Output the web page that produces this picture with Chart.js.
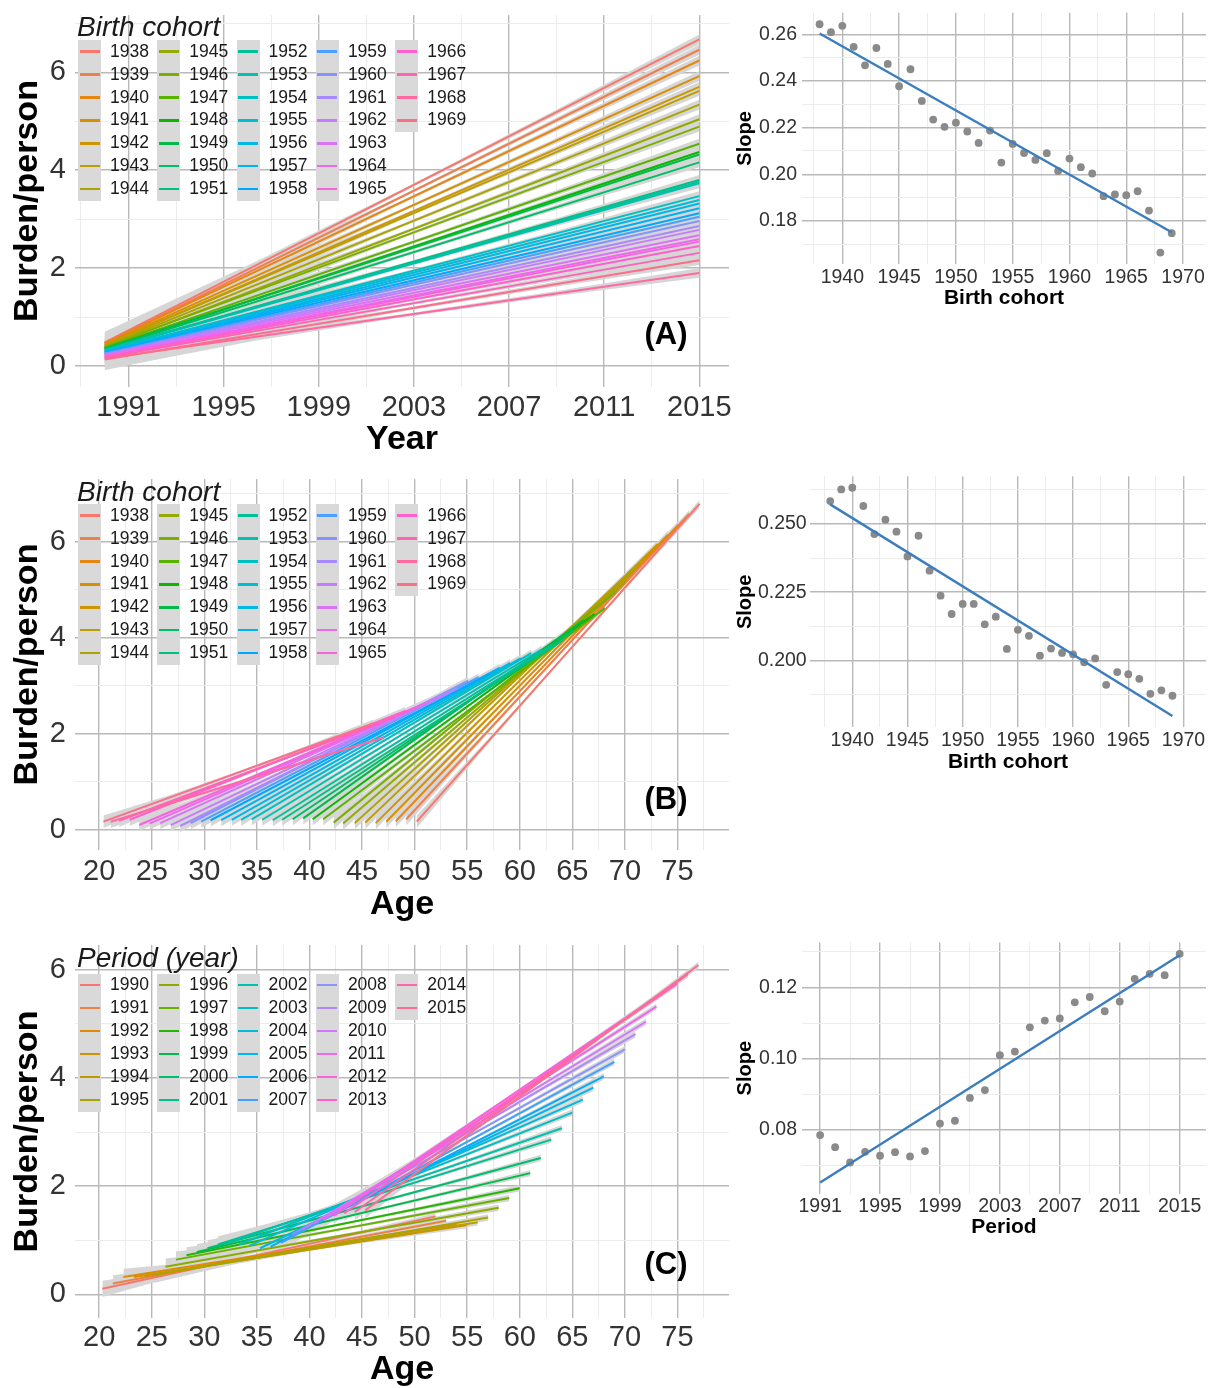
<!DOCTYPE html>
<html><head><meta charset="utf-8">
<script src="https://cdn.jsdelivr.net/npm/chart.js@4.4.1/dist/chart.umd.min.js"></script>
<style>
html,body{margin:0;padding:0;background:#fff;width:1210px;height:1388px;overflow:hidden;position:relative;font-family:"Liberation Sans",Arial,Helvetica,sans-serif;}
canvas{position:absolute;}
.t{position:absolute;white-space:nowrap;line-height:1;transform:translateY(-50%);}
.key{position:absolute;background:#d9d9d9;}
.key i{position:absolute;left:1.5px;width:20px;height:2.5px;}
.plab{position:absolute;font-weight:bold;font-size:31px;line-height:1;transform:translate(-50%,-50%);color:#000;}
</style></head><body>
<script>
// ---------------- DATA ----------------
const cohorts = [1938,1939,1940,1941,1942,1943,1944,1945,1946,1947,1948,1949,1950,1951,1952,1953,1954,1955,1956,1957,1958,1959,1960,1961,1962,1963,1964,1965,1966,1967,1968,1969];
const periods = [1990,1991,1992,1993,1994,1995,1996,1997,1998,1999,2000,2001,2002,2003,2004,2005,2006,2007,2008,2009,2010,2011,2012,2013,2014,2015];

// Panel A: burden per cohort, fitted line from 1990 to 2015
const aYearSpan = [1990, 2015];
const aStartVal = [0.48,0.46,0.46,0.44,0.42,0.42,0.40,0.38,0.39,0.37,0.35,0.36,0.34,0.33,0.33,0.32,0.30,0.30,0.28,0.28,0.27,0.25,0.25,0.23,0.22,0.22,0.20,0.19,0.18,0.17,0.15,0.13];
const aEndVal   = [6.67,6.46,6.24,5.92,5.70,5.62,5.34,5.04,4.89,4.54,4.37,4.32,4.16,3.80,3.76,3.73,3.47,3.39,3.32,3.22,3.12,3.05,2.96,2.86,2.78,2.67,2.59,2.54,2.45,2.31,1.90,2.16];

// Panel B: burden per cohort against age
const bStartAge = [50.2,49.2,48.2,47.3,46.3,45.3,44.3,43.2,42.3,41.3,40.3,39.4,38.4,37.4,36.5,35.5,34.5,33.5,32.6,31.6,30.6,29.7,28.7,27.7,26.8,25.8,24.8,23.8,22.9,21.9,21.1,20.4];
const bEndAge   = [77.1,76.1,75.1,74.1,73.1,72.1,71.1,70.1,69.1,68.1,67.1,66.1,65.1,64.1,63.1,62.1,61.1,60.1,59.1,58.1,57.1,56.1,55.1,54.1,53.1,52.1,51.1,50.1,49.1,48.1,47.1,46.1];
const bStartVal = [0.17,0.22,0.18,0.17,0.14,0.15,0.14,0.13,0.15,0.22,0.22,0.24,0.22,0.21,0.20,0.21,0.22,0.21,0.21,0.20,0.20,0.17,0.14,0.08,0.10,0.14,0.13,0.10,0.21,0.19,0.17,0.17];
const bEndVal   = [6.79,6.58,6.36,6.15,5.95,5.72,5.45,5.17,4.95,4.62,4.50,4.37,4.15,3.95,3.85,3.76,3.68,3.58,3.48,3.38,3.25,3.18,3.11,2.95,2.85,2.75,2.65,2.55,2.48,2.35,1.93,2.22];

// Panel C: burden per period against age
const cStartAge = [20.3,21.3,22.3,23.3,24.3,25.3,26.3,27.3,28.3,29.3,30.3,31.3,32.3,33.3,34.3,35.3,36.3,37.3,38.3,39.3,40.3,41.3,42.3,43.3,44.3,45.3];
const cEndAge   = [52,53,54,55,56,57,58,59,60,61,62,63,64,65,66,67,68,69,70,71,72,73,74,75,76,77];
const cStartVal = [0.10,0.20,0.32,0.32,0.33,0.36,0.51,0.64,0.72,0.78,0.85,0.92,0.95,0.92,0.90,0.85,0.88,0.95,1.10,1.20,1.30,1.38,1.45,1.50,1.52,1.55];
const cEndVal   = [1.44,1.36,1.30,1.28,1.33,1.42,1.60,1.78,1.96,2.24,2.52,2.86,3.07,3.36,3.60,3.82,4.03,4.30,4.53,4.81,5.04,5.32,5.63,5.75,5.92,6.09];

// Right panels: slopes
const slopeA = [0.2643,0.2609,0.2636,0.2546,0.2467,0.2541,0.2473,0.2377,0.2450,0.2314,0.2234,0.2203,0.2221,0.2183,0.2134,0.2187,0.2050,0.2130,0.2091,0.2061,0.2090,0.2014,0.2067,0.2030,0.2003,0.1906,0.1913,0.1910,0.1927,0.1844,0.1664,0.1747];
const slopeAFitX = [1938, 1969];
const slopeAFitY = [0.2603, 0.1751];
const slopeB = [0.2584,0.2627,0.2633,0.2566,0.2463,0.2516,0.2472,0.2381,0.2457,0.2329,0.2237,0.2170,0.2207,0.2207,0.2132,0.2160,0.2042,0.2112,0.2090,0.2017,0.2043,0.2027,0.2022,0.1993,0.2007,0.1910,0.1957,0.1949,0.1932,0.1877,0.1890,0.1870];
const slopeBFitX = [1938, 1969];
const slopeBFitY = [0.2572, 0.1796];
const slopePeriods = [1991,1992,1993,1994,1995,1996,1997,1998,1999,2000,2001,2002,2003,2004,2005,2006,2007,2008,2009,2010,2011,2012,2013,2014,2015];
const slopeC = [0.0786,0.0752,0.0709,0.0739,0.0728,0.0738,0.0726,0.0741,0.0818,0.0826,0.0890,0.0912,0.1010,0.1020,0.1088,0.1107,0.1113,0.1158,0.1173,0.1133,0.1160,0.1224,0.1238,0.1234,0.1294];
const slopeCFitX = [1991, 2015];
const slopeCFitY = [0.0653, 0.1290];

// Tick values
const yearMajor = [1991,1995,1999,2003,2007,2011,2015];
const yearMinor = [1989,1993,1997,2001,2005,2009,2013];
const ageMajor = [20,25,30,35,40,45,50,55,60,65,70,75];
const ageMinor = [22.5,27.5,32.5,37.5,42.5,47.5,52.5,57.5,62.5,67.5,72.5,77.5];
const burdenMajor = [0,2,4,6];
const burdenMinor = [1,3,5,7];
const cohortMajor = [1940,1945,1950,1955,1960,1965,1970];
const cohortMinor = [1937.5,1942.5,1947.5,1952.5,1957.5,1962.5,1967.5];
const slopeAMajor = [0.18,0.20,0.22,0.24,0.26];
const slopeAMinor = [0.17,0.19,0.21,0.23,0.25];
const slopeBMajor = [0.200,0.225,0.250];
const slopeBMinor = [0.1875,0.2125,0.2375,0.2625];
const periodMajor = [1991,1995,1999,2003,2007,2011,2015];
const periodMinor = [1993,1997,2001,2005,2009,2013];
const slopeCMajor = [0.08,0.10,0.12];
const slopeCMinor = [0.07,0.09,0.11,0.13];

// ---------------- STYLE / HELPERS ----------------
const FF = "'Liberation Sans', Arial, Helvetica, sans-serif";
const MAJOR = '#b9b9b9', MINOR = '#ececec', BAND = '#d6d6d6';

function hcl(h, c, l) {
  const WY = 100, Wu = 0.1978398, Wv = 0.4683363;
  const hr = h * Math.PI / 180;
  const U = c * Math.cos(hr), V = c * Math.sin(hr);
  const Y = WY * ((l > 7.999592) ? Math.pow((l + 16) / 116, 3) : l / 903.3);
  const u = U / (13 * l) + Wu, v = V / (13 * l) + Wv;
  const X = 9.0 * Y * u / (4 * v);
  const Z = -X / 3 - 5 * Y + 3 * Y / v;
  const g = t => { t = t > 0.00304 ? 1.055 * Math.pow(t, 1 / 2.4) - 0.055 : 12.92 * t; return Math.round(255 * Math.min(1, Math.max(0, t))); };
  const R = g((3.240479 * X - 1.537150 * Y - 0.498535 * Z) / WY);
  const G = g((-0.969256 * X + 1.875992 * Y + 0.041556 * Z) / WY);
  const B = g((0.055648 * X - 0.204043 * Y + 1.057311 * Z) / WY);
  return `rgb(${R},${G},${B})`;
}
function huePal(n) { const out = []; for (let i = 0; i < n; i++) out.push(hcl(15 + i * 360 / n, 100, 65)); return out; }
const cohortColors = huePal(cohorts.length);
const periodColors = huePal(periods.length);

const near = (a, b) => Math.abs(a - b) < 1e-7;
const isIn = (arr, v) => arr.some(m => near(m, v));

function axis(o) {
  const ticks = o.major.concat(o.minor).sort((a, b) => a - b);
  return {
    type: 'linear', position: o.pos, min: o.min, max: o.max,
    afterBuildTicks: ax => { ax.ticks = ticks.map(v => ({ value: v })); },
    afterFit: ax => {
      if (o.pos === 'left') ax.width = o.size; else ax.height = o.size;
      ax.paddingTop = 0; ax.paddingBottom = 0; ax.paddingLeft = 0; ax.paddingRight = 0;
    },
    grid: {
      drawTicks: false,
      color: c => (c.tick && isIn(o.major, c.tick.value)) ? MAJOR : MINOR,
      lineWidth: c => (c.tick && isIn(o.major, c.tick.value)) ? 1.4 : 1
    },
    border: { display: false },
    ticks: {
      autoSkip: false, maxRotation: 0, minRotation: 0, padding: o.pad, color: '#333',
      font: { family: FF, size: o.fs },
      callback: v => isIn(o.major, v) ? o.fmt(v) : ''
    },
    title: {
      display: true, text: o.title, color: '#000',
      font: { family: FF, size: o.tfs, weight: 'bold' },
      padding: o.pos === 'left' ? { top: o.tpad, bottom: 0 } : { top: 0, bottom: o.tpad }
    }
  };
}

function makeCanvas(left, top, w, h) {
  const c = document.createElement('canvas');
  c.width = w; c.height = h;
  c.style.left = left + 'px'; c.style.top = top + 'px';
  c.style.width = w + 'px'; c.style.height = h + 'px';
  document.body.appendChild(c);
  return c;
}

function text(str, x, y, size, extra) {
  const d = document.createElement('div');
  d.className = 't'; d.textContent = str;
  d.style.left = x + 'px'; d.style.top = y + 'px'; d.style.fontSize = size + 'px';
  d.style.color = '#1a1a1a';
  if (extra) Object.assign(d.style, extra);
  document.body.appendChild(d);
}

function legend(titleText, titleY, firstRowY, rowH, labels, colors, rows) {
  text(titleText, 77, titleY, 28, { fontStyle: 'italic' });
  const ncol = Math.ceil(labels.length / rows);
  for (let col = 0; col < ncol; col++) {
    const kx = 78 + col * 79.3;
    const n = Math.min(rows, labels.length - col * rows);
    const key = document.createElement('div');
    key.className = 'key';
    key.style.left = kx + 'px'; key.style.top = (firstRowY - rowH / 2) + 'px';
    key.style.width = '23px'; key.style.height = (n * rowH) + 'px';
    for (let r = 0; r < n; r++) {
      const idx = col * rows + r;
      const seg = document.createElement('i');
      seg.style.top = (r * rowH + rowH / 2 - 1.25) + 'px';
      seg.style.background = colors[idx];
      key.appendChild(seg);
      text(String(labels[idx]), kx + 32, firstRowY + r * rowH, 17.5);
    }
    document.body.appendChild(key);
  }
}

function plabel(str, x, y) {
  const d = document.createElement('div');
  d.className = 'plab'; d.textContent = str;
  d.style.left = x + 'px'; d.style.top = y + 'px';
  document.body.appendChild(d);
}

// band half-widths given at 5 evenly spaced fractions along each fitted line
const BAND_T = [0, 0.25, 0.5, 0.75, 1];

function leftPanel(p) {
  const n = p.x0.length;
  const ds = [];
  for (let i = 0; i < n; i++) {
    const x0 = p.x0[i], x1 = p.x1[i], y0 = p.y0[i], y1 = p.y1[i];
    const up = BAND_T.map((t, k) => ({ x: x0 + (x1 - x0) * t, y: y0 + (y1 - y0) * t + p.hw[k] }));
    const lo = BAND_T.map((t, k) => ({ x: x0 + (x1 - x0) * t, y: y0 + (y1 - y0) * t - p.hw[k] }));
    ds.push({ data: up, fill: '+1', backgroundColor: BAND, borderColor: 'rgba(0,0,0,0)', borderWidth: 0, pointRadius: 0, order: 1000 });
    ds.push({ data: lo, fill: false, backgroundColor: BAND, borderColor: 'rgba(0,0,0,0)', borderWidth: 0, pointRadius: 0, order: 1000 });
  }
  for (let i = 0; i < n; i++) {
    ds.push({ data: [{ x: p.x0[i], y: p.y0[i] }, { x: p.x1[i], y: p.y1[i] }],
      borderColor: p.colors[i], borderWidth: 2, pointRadius: 0, fill: false, order: n - i });
  }
  const cv = makeCanvas(p.left, p.top, p.w, p.h);
  new Chart(cv, {
    type: 'line',
    data: { datasets: ds },
    options: {
      responsive: false, animation: false, events: [],
      layout: { padding: { left: 0, top: p.padTop, right: p.padRight, bottom: 0 } },
      plugins: { legend: { display: false }, tooltip: { enabled: false } },
      scales: { x: p.xAxis, y: p.yAxis }
    }
  });
}

function rightPanel(p) {
  const cv = makeCanvas(p.left, p.top, p.w, p.h);
  new Chart(cv, {
    type: 'scatter',
    data: { datasets: [
      { data: p.xs.map((x, i) => ({ x: x, y: p.ys[i] })), pointRadius: 3.9, pointBackgroundColor: '#8a8a8a', pointBorderWidth: 0, order: 1 },
      { data: p.fx.map((x, i) => ({ x: x, y: p.fy[i] })), showLine: true, borderColor: '#3b7dbd', borderWidth: 2.4, pointRadius: 0, order: 0 }
    ] },
    options: {
      responsive: false, animation: false, events: [],
      layout: { padding: { left: 0, top: p.padTop, right: 0, bottom: 0 } },
      plugins: { legend: { display: false }, tooltip: { enabled: false } },
      scales: { x: p.xAxis, y: p.yAxis }
    }
  });
}

const intFmt = v => String(Math.round(v));

// ---------------- PANEL A ----------------
leftPanel({
  left: 0, top: 0, w: 735, h: 462, padTop: 15, padRight: 6,
  x0: cohorts.map(() => aYearSpan[0]), x1: cohorts.map(() => aYearSpan[1]),
  y0: aStartVal, y1: aEndVal, colors: cohortColors, hw: [0.22, 0.08, 0.03, 0.05, 0.1],
  xAxis: axis({ pos: 'bottom', min: 1988.75, max: 2016.25, major: yearMajor, minor: yearMinor, fmt: intFmt, size: 75, pad: 3.6, fs: 29, title: 'Year', tfs: 34, tpad: 1.6 }),
  yAxis: axis({ pos: 'left', min: -0.43, max: 7.17, major: burdenMajor, minor: burdenMinor, fmt: intFmt, size: 75, pad: 9, fs: 29, title: 'Burden/person', tfs: 34, tpad: 7.6 })
});
// ---------------- PANEL B ----------------
leftPanel({
  left: 0, top: 470, w: 735, h: 455, padTop: 9, padRight: 6,
  x0: bStartAge, x1: bEndAge, y0: bStartVal, y1: bEndVal, colors: cohortColors, hw: [0.13, 0.05, 0.025, 0.04, 0.08],
  xAxis: axis({ pos: 'bottom', min: 17.7, max: 79.9, major: ageMajor, minor: ageMinor, fmt: intFmt, size: 75, pad: 4.6, fs: 29, title: 'Age', tfs: 34, tpad: 0 }),
  yAxis: axis({ pos: 'left', min: -0.42, max: 7.31, major: burdenMajor, minor: burdenMinor, fmt: intFmt, size: 75, pad: 9, fs: 29, title: 'Burden/person', tfs: 34, tpad: 7.6 })
});
// ---------------- PANEL C ----------------
leftPanel({
  left: 0, top: 935, w: 735, h: 456, padTop: 10, padRight: 6,
  x0: cStartAge, x1: cEndAge, y0: cStartVal, y1: cEndVal, colors: periodColors, hw: [0.15, 0.05, 0.02, 0.035, 0.06],
  xAxis: axis({ pos: 'bottom', min: 17.7, max: 79.9, major: ageMajor, minor: ageMinor, fmt: intFmt, size: 73, pad: 2.6, fs: 29, title: 'Age', tfs: 34, tpad: 0.6 }),
  yAxis: axis({ pos: 'left', min: -0.44, max: 6.46, major: burdenMajor, minor: [1, 3, 5], fmt: intFmt, size: 75, pad: 9, fs: 29, title: 'Burden/person', tfs: 34, tpad: 7.6 })
});

// ---------------- RIGHT PANELS ----------------
rightPanel({
  left: 728, top: 0, w: 482, h: 318, padTop: 12.8,
  xs: cohorts, ys: slopeA, fx: slopeAFitX, fy: slopeAFitY,
  xAxis: axis({ pos: 'bottom', min: 1936.45, max: 1972.02, major: cohortMajor, minor: cohortMinor, fmt: intFmt, size: 54, pad: 1.6, fs: 19.5, title: 'Birth cohort', tfs: 21, tpad: 7.4 }),
  yAxis: axis({ pos: 'left', min: 0.1615, max: 0.2692, major: slopeAMajor, minor: slopeAMinor, fmt: v => v.toFixed(2), size: 74, pad: 5, fs: 19.5, title: 'Slope', tfs: 20, tpad: 5 })
});
rightPanel({
  left: 728, top: 466, w: 482, h: 316, padTop: 10.3,
  xs: cohorts, ys: slopeB, fx: slopeBFitX, fy: slopeBFitY,
  xAxis: axis({ pos: 'bottom', min: 1936.17, max: 1972.04, major: cohortMajor, minor: cohortMinor, fmt: intFmt, size: 54.6, pad: 1.9, fs: 19.5, title: 'Birth cohort', tfs: 21, tpad: 7.1 }),
  yAxis: axis({ pos: 'left', min: 0.1754, max: 0.2675, major: slopeBMajor, minor: slopeBMinor, fmt: v => v.toFixed(3), size: 82, pad: 3.3, fs: 19.5, title: 'Slope', tfs: 20, tpad: 5 })
});
rightPanel({
  left: 728, top: 930, w: 482, h: 318, padTop: 12.4,
  xs: slopePeriods, ys: slopeC, fx: slopeCFitX, fy: slopeCFitY,
  xAxis: axis({ pos: 'bottom', min: 1989.79, max: 2016.76, major: periodMajor, minor: periodMinor, fmt: intFmt, size: 54.1, pad: 0.7, fs: 19.5, title: 'Period', tfs: 21, tpad: 8.6 }),
  yAxis: axis({ pos: 'left', min: 0.0621, max: 0.1326, major: slopeCMajor, minor: slopeCMinor, fmt: v => v.toFixed(2), size: 74, pad: 5, fs: 19.5, title: 'Slope', tfs: 20, tpad: 5 })
});

// ---------------- LEGENDS & PANEL LABELS ----------------
legend('Birth cohort', 27, 51.7, 22.9, cohorts, cohortColors, 7);
legend('Birth cohort', 491.7, 515.7, 22.9, cohorts, cohortColors, 7);
legend('Period (year)', 958.3, 985, 23, periods, periodColors, 6);
plabel('(A)', 666, 333);
plabel('(B)', 666, 798);
plabel('(C)', 666, 1263);
</script>
</body></html>
